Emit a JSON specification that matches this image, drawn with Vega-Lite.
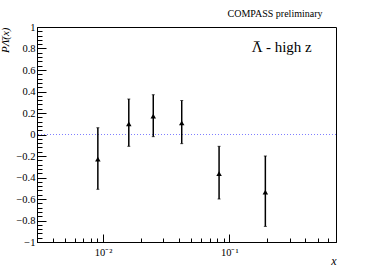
{
  "$schema": "https://vega.github.io/schema/vega-lite/v6.json",
  "width": 299,
  "height": 215,
  "autosize": {"type": "none"},
  "padding": {"left": 37, "top": 27, "right": 38, "bottom": 27},
  "background": "white",
  "config": {
    "view": {"stroke": "#000", "strokeWidth": 1},
    "font": "Liberation Serif",
    "axis": {"grid": false, "domainColor": "#000", "tickColor": "#000", "labelColor": "#000", "titleColor": "#000", "labelFont": "Liberation Serif", "titleFont": "Liberation Serif", "labelFontSize": 10.5, "labelBound": false, "labelFlush": false}
  },
  "title": {"text": "COMPASS preliminary", "anchor": "end", "dx": -14, "offset": 3, "fontSize": 10, "font": "Liberation Serif", "fontWeight": "normal", "color": "#000"},
  "data": {"values": [
    {"x": 0.0091, "y": -0.23, "lo": -0.51, "hi": 0.063},
    {"x": 0.016, "y": 0.098, "lo": -0.11, "hi": 0.33},
    {"x": 0.025, "y": 0.17, "lo": -0.02, "hi": 0.37},
    {"x": 0.042, "y": 0.107, "lo": -0.085, "hi": 0.316},
    {"x": 0.083, "y": -0.365, "lo": -0.6, "hi": -0.11},
    {"x": 0.193, "y": -0.535, "lo": -0.855, "hi": -0.2}
  ]},
  "layer": [
    {
      "data": {"values": [{"ref": 0}]},
      "mark": {"type": "rule", "color": "#7f7fff", "strokeDash": [1, 2], "strokeWidth": 1},
      "encoding": {"y": {"field": "ref", "type": "quantitative"}}
    },
    {
      "mark": {"type": "rule", "color": "#000", "strokeWidth": 1.5},
      "encoding": {
        "x": {"field": "x", "type": "quantitative",
          "scale": {"type": "log", "domain": [0.003, 0.7], "nice": false},
          "axis": {
            "title": "x", "titleFontStyle": "italic", "titleFontWeight": "normal", "titleFontSize": 12, "titleAnchor": "end", "titlePadding": -6,
            "labelOverlap": false, "tickCount": 100,
            "values": [0.003,0.004,0.005,0.006,0.007,0.008,0.009,0.01,0.02,0.03,0.04,0.05,0.06,0.07,0.08,0.09,0.1,0.2,0.3,0.4,0.5,0.6,0.7],
            "labelExpr": "datum.value == 0.01 ? '10⁻²' : (datum.value == 0.1 ? '10⁻¹' : '')",
            "tickSize": {"condition": {"test": "datum.value == 0.01 || datum.value == 0.1", "value": -8}, "value": -4},
            "labelPadding": 13
          }
        },
        "y": {"field": "lo", "type": "quantitative",
          "scale": {"domain": [-1, 1], "nice": false},
          "axis": {
            "title": "PΛ̄(x)", "titleFontStyle": "italic", "titleFontWeight": "normal", "titleFontSize": 11, "titleAnchor": "end", "titlePadding": 5,
            "labelOverlap": false, "tickCount": 100,
            "values": [-1,-0.96,-0.92,-0.88,-0.84,-0.8,-0.76,-0.72,-0.68,-0.64,-0.6,-0.56,-0.52,-0.48,-0.44,-0.4,-0.36,-0.32,-0.28,-0.24,-0.2,-0.16,-0.12,-0.08,-0.04,0,0.04,0.08,0.12,0.16,0.2,0.24,0.28,0.32,0.36,0.4,0.44,0.48,0.52,0.56,0.6,0.64,0.68,0.72,0.76,0.8,0.84,0.88,0.92,0.96,1],
            "labelExpr": "indexof([-1,-0.8,-0.6,-0.4,-0.2,0,0.2,0.4,0.6,0.8,1], datum.value) >= 0 ? datum.label : ''",
            "format": ".1~f",
            "tickSize": {"condition": {"test": "indexof([-1,-0.8,-0.6,-0.4,-0.2,0,0.2,0.4,0.6,0.8,1], datum.value) >= 0", "value": -9}, "value": -5},
            "labelPadding": 11
          }
        },
        "y2": {"field": "hi"}
      }
    },
    {
      "mark": {"type": "tick", "orient": "horizontal", "color": "#000", "size": 3, "thickness": 1},
      "encoding": {"x": {"field": "x", "type": "quantitative"}, "y": {"field": "lo", "type": "quantitative"}}
    },
    {
      "mark": {"type": "tick", "orient": "horizontal", "color": "#000", "size": 3, "thickness": 1},
      "encoding": {"x": {"field": "x", "type": "quantitative"}, "y": {"field": "hi", "type": "quantitative"}}
    },
    {
      "mark": {"type": "point", "shape": "triangle-up", "filled": true, "color": "#000", "size": 30, "opacity": 1},
      "encoding": {"x": {"field": "x", "type": "quantitative"}, "y": {"field": "y", "type": "quantitative"}}
    },
    {
      "data": {"values": [{"label": "Λ - high z", "bar": "‾", "lx": 0.45, "ly": 0.767}]},
      "layer": [
        {
          "mark": {"type": "text", "align": "right", "baseline": "alphabetic", "fontSize": 15, "fontWeight": "normal", "font": "Liberation Serif", "color": "#000"},
          "encoding": {"x": {"field": "lx", "type": "quantitative"}, "y": {"field": "ly", "type": "quantitative"}, "text": {"field": "label"}}
        },
        {
          "mark": {"type": "text", "align": "center", "baseline": "alphabetic", "dx": -55, "dy": 1, "fontSize": 15, "fontWeight": "normal", "font": "Liberation Serif", "color": "#000"},
          "encoding": {"x": {"field": "lx", "type": "quantitative"}, "y": {"field": "ly", "type": "quantitative"}, "text": {"field": "bar"}}
        }
      ]
    }
  ]
}
